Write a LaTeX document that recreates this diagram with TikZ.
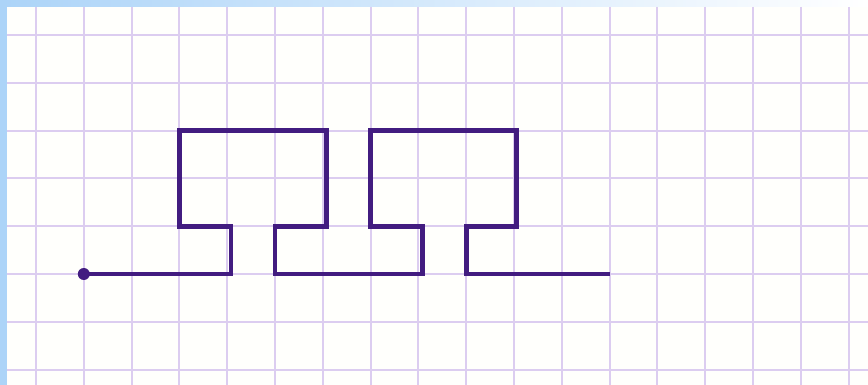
\documentclass[tikz,border=0pt]{standalone}
\definecolor{paper}{RGB}{255,255,252}
\definecolor{gridc}{RGB}{220,205,240}
\definecolor{edgeblue}{RGB}{172,212,248}
\definecolor{ink}{RGB}{66,28,128}
\begin{document}
\begin{tikzpicture}[x=1pt,y=-1pt,
  gridline/.style={draw=gridc,line width=2pt},
  trace/.style={draw=ink,line width=4.6pt,line join=miter,line cap=butt}]
\useasboundingbox (0,0) rectangle (868,385);
\fill[paper] (0,0) rectangle (868,385);
% blue edges
\shade[left color=edgeblue,right color=white] (0,0) rectangle (868,7);
\fill[edgeblue] (0,0) rectangle (7,385);
% grid
\foreach \k in {0,...,17} {
  \draw[gridline] ({36+47.8*\k},7) -- ({36+47.8*\k},385);
}
\foreach \k in {0,...,7} {
  \draw[gridline] (7,{35+47.8*\k}) -- (868,{35+47.8*\k});
}
% path in grid units
\begin{scope}[shift={(36,35)},x=47.8pt,y=-47.8pt]
  \coordinate (s) at (1,5);
  \coordinate (e) at (12,5);
  \draw[trace] (s) -- (4.08,5) -- (4.08,4) -- (3,4) -- (3,2) -- (6.08,2) -- (6.08,4) -- (5,4) -- (5,5)
    -- (8.08,5) -- (8.08,4) -- (7,4) -- (7,2) -- (10.05,2) -- (10.05,4) -- (9,4) -- (9,5) -- (e);
  \fill[ink] (s) circle (6pt);
\end{scope}
\end{tikzpicture}
\end{document}
